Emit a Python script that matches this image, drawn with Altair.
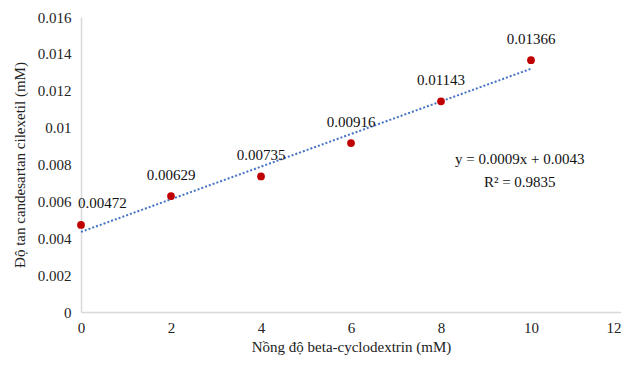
import altair as alt
import pandas as pd

conc = [0, 2, 4, 6, 8, 10]
solub = [0.00472, 0.00629, 0.00735, 0.00916, 0.01143, 0.01366]
labels = ["0.00472", "0.00629", "0.00735", "0.00916", "0.01143", "0.01366"]
eq_lines = ["y = 0.0009x + 0.0043", "R² = 0.9835"]
eq_x = [9.75, 9.75]
eq_y = [0.0083, 0.00705]
x_ticks = [0, 2, 4, 6, 8, 10, 12]
y_ticks = [0, 0.002, 0.004, 0.006, 0.008, 0.01, 0.012, 0.014, 0.016]

df = pd.DataFrame({"x": conc, "y": solub, "lab": labels})
eq = pd.DataFrame({"x": eq_x, "y": eq_y, "t": eq_lines})

FONT = "Liberation Serif"

xs = alt.Scale(domain=[0, 12], nice=False)
ys = alt.Scale(domain=[0, 0.016], nice=False)

ax_common = dict(grid=False, ticks=False, domainColor="#d9d9d9", domainWidth=1.5,
                 labelFont=FONT, labelFontSize=15, labelColor="#222",
                 titleFont=FONT, titleFontSize=15, titleColor="#222", titleFontWeight="normal",
                 labelOverlap=False, labelFlush=False)

X = alt.X("x:Q", scale=xs,
          axis=alt.Axis(title="Nồng độ beta-cyclodextrin (mM)", values=x_ticks,
                        labelAlign={"condition": {"test": "datum.value == 12", "value": "right"},
                                    "value": "center"},
                        labelPadding=8, titlePadding=4, **ax_common))
Y = alt.Y("y:Q", scale=ys,
          axis=alt.Axis(title="Độ tan candesartan cilexetil (mM)", format="~g",
                        values=y_ticks, labelPadding=10, titlePadding=10, **ax_common))

base = alt.Chart(df)

trend = base.transform_regression("x", "y").mark_line(
    color="#4472C4", strokeDash=[2, 2], strokeWidth=2
).encode(x=X, y=Y)

pts = base.mark_circle(size=60, color="#C00000", opacity=1).encode(x=X, y=Y)

txt_first = base.transform_filter("datum.x == 0").mark_text(
    font=FONT, fontSize=15, color="#111", dy=-22, align="left", dx=-3
).encode(x=X, y=Y, text="lab:N")

txt = base.transform_filter("datum.x > 0").mark_text(
    font=FONT, fontSize=15, color="#111", dy=-21, align="center"
).encode(x=X, y=Y, text="lab:N")

eqt = alt.Chart(eq).mark_text(font=FONT, fontSize=15, color="#111", align="center").encode(
    x=X, y=Y, text="t:N"
)

chart = alt.layer(trend, pts, txt_first, txt, eqt).properties(
    width=540, height=295,
    padding={"left": 4, "top": 2, "right": 0, "bottom": 5},
).configure_view(stroke=None)

chart.save("out.html", embed_options={"renderer": "svg", "actions": False})
